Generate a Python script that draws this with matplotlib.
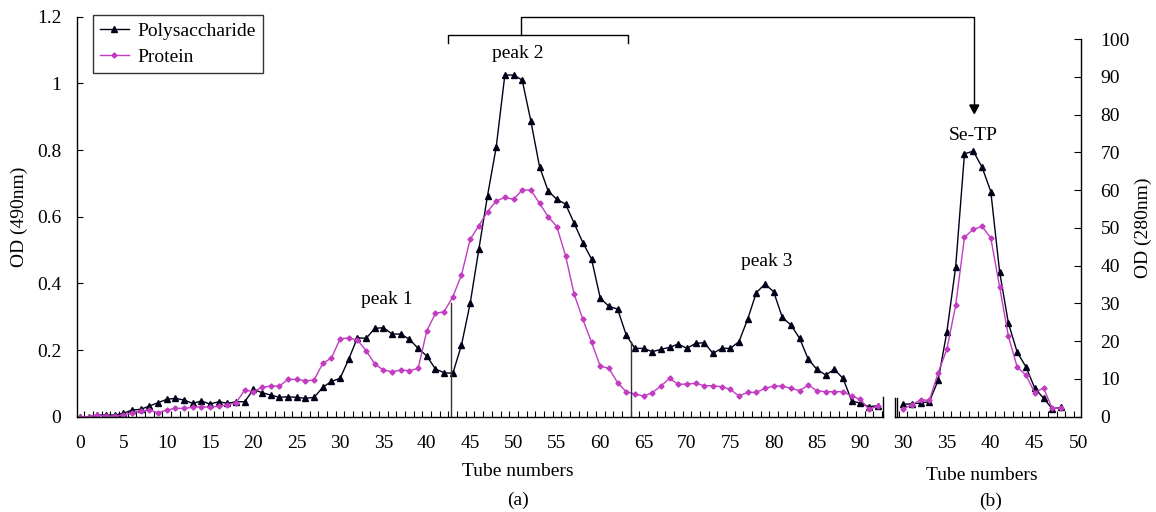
import numpy as np
import matplotlib
matplotlib.use("Agg")
import matplotlib.pyplot as plt
from matplotlib.lines import Line2D
from matplotlib.patches import Polygon
from matplotlib.ticker import FixedLocator

# ---------------- data ----------------
tubes_a = np.arange(0, 93)
poly_a = [0.000, 0.000, 0.005, 0.005, 0.005, 0.010, 0.020, 0.022, 0.032, 0.042,
          0.052, 0.055, 0.050, 0.040, 0.047, 0.038, 0.045, 0.040, 0.045, 0.045,
          0.082, 0.072, 0.065, 0.058, 0.060, 0.058, 0.055, 0.058, 0.088, 0.106,
          0.115, 0.173, 0.237, 0.235, 0.265, 0.267, 0.248, 0.248, 0.232, 0.205,
          0.182, 0.143, 0.132, 0.130, 0.215, 0.340, 0.502, 0.663, 0.808, 1.025,
          1.025, 1.010, 0.887, 0.750, 0.677, 0.652, 0.638, 0.580, 0.522, 0.473,
          0.356, 0.331, 0.323, 0.245, 0.205, 0.205, 0.195, 0.202, 0.208, 0.218,
          0.205, 0.220, 0.222, 0.190, 0.205, 0.205, 0.225, 0.292, 0.372, 0.398,
          0.375, 0.298, 0.275, 0.235, 0.172, 0.142, 0.125, 0.142, 0.115, 0.048,
          0.040, 0.030, 0.033]
protein_a = [0.000, 0.000, 0.005, 0.002, 0.002, 0.005, 0.012, 0.017, 0.020, 0.012,
             0.020, 0.025, 0.025, 0.028, 0.030, 0.028, 0.032, 0.035, 0.042, 0.080,
             0.075, 0.088, 0.092, 0.092, 0.112, 0.112, 0.108, 0.110, 0.160, 0.176,
             0.234, 0.236, 0.230, 0.198, 0.158, 0.140, 0.135, 0.140, 0.138, 0.145,
             0.258, 0.310, 0.315, 0.360, 0.425, 0.532, 0.573, 0.615, 0.647, 0.658,
             0.652, 0.680, 0.680, 0.640, 0.600, 0.570, 0.483, 0.367, 0.292, 0.223,
             0.152, 0.145, 0.102, 0.075, 0.068, 0.062, 0.072, 0.092, 0.115, 0.097,
             0.098, 0.100, 0.093, 0.093, 0.090, 0.082, 0.062, 0.073, 0.073, 0.085,
             0.092, 0.092, 0.085, 0.078, 0.095, 0.078, 0.075, 0.075, 0.075, 0.062,
             0.052, 0.022, 0.032]

tubes_b = np.arange(30, 49)
poly_b = [3.3, 3.4, 3.6, 4.0, 9.6, 22.5, 39.7, 69.6, 70.3, 66.1, 59.6, 38.4,
          24.8, 17.1, 13.2, 7.6, 4.9, 2.1, 2.5]
protein_b = [2.1, 3.1, 4.5, 4.3, 11.6, 17.9, 29.5, 47.5, 49.6, 50.4, 47.3, 34.4,
             21.3, 13.2, 11.0, 6.4, 7.6, 2.2, 2.4]

xticks_a = list(range(0, 95, 5))
yticks_a = [0, 0.2, 0.4, 0.6, 0.8, 1.0, 1.2]
yticklabels_a = ["0", "0.2", "0.4", "0.6", "0.8", "1", "1.2"]
xticks_b = [30, 35, 40, 45, 50]
yticks_b = list(range(0, 101, 10))

# ---------------- style ----------------
plt.rcParams['font.family'] = ['Liberation Serif', 'DejaVu Serif']
FS = 14
POLY_C = '#000018'
PROT_C = '#C23CC2'
W, H = 1156, 512

def fx(px):
    return px / W

def fy(py):
    return 1 - py / H

fig = plt.figure(figsize=(W / 100, H / 100), dpi=100)

# panel (a)
axa = fig.add_axes([fx(76.7), fy(416.7), (882.7 - 76.7) / W, 400 / H])
axa.plot(tubes_a, poly_a, color=POLY_C, lw=1.0, marker='^', ms=4, label='Polysaccharide')
axa.plot(tubes_a, protein_a, color=PROT_C, lw=1.0, marker='D', ms=2.6, label='Protein')
axa.set_xlim(-0.38, 92.58)
axa.set_ylim(0, 1.2)
axa.set_yticks(yticks_a)
axa.set_yticklabels(yticklabels_a)
axa.set_xticks(xticks_a)
axa.xaxis.set_minor_locator(FixedLocator(np.arange(0.5, 93, 1.0)))
axa.tick_params(axis='x', which='major', length=0, pad=13, labelsize=FS)
axa.tick_params(axis='x', which='minor', direction='in', length=4, width=0.8)
axa.tick_params(axis='y', direction='in', length=4, width=0.8, pad=11, labelsize=FS)
for s in ['top', 'right']:
    axa.spines[s].set_visible(False)
for s in ['left', 'bottom']:
    axa.spines[s].set_linewidth(1.0)
axa.plot([1, 1], [0, 0.05], transform=axa.transAxes, color='k', lw=1.0, clip_on=False)
# separation lines for peaks
axa.plot([42.75, 42.75], [0, 0.342], color='#333333', lw=1.0)
axa.plot([63.6, 63.6], [0, 0.225], color='#333333', lw=1.0)

leg = axa.legend(loc='upper left', bbox_to_anchor=(0.0199, 1.004), borderaxespad=0,
                 fontsize=FS, frameon=True, fancybox=False, edgecolor='k',
                 handlelength=1.5, borderpad=0.35, labelspacing=0.45,
                 handletextpad=0.45, markerscale=1.0)
leg.get_frame().set_linewidth(1.0)

# panel (b)
axb = fig.add_axes([fx(895), fy(416.7), (1081 - 895) / W, (416.7 - 39) / H])
axb.plot(tubes_b, poly_b, color=POLY_C, lw=1.0, marker='^', ms=4)
axb.plot(tubes_b, protein_b, color=PROT_C, lw=1.0, marker='D', ms=2.6)
axb.set_xlim(29.09, 50.27)
axb.set_ylim(0, 100)
axb.set_xticks(xticks_b)
axb.xaxis.set_minor_locator(FixedLocator(np.arange(29.5, 50.3, 1.0)))
axb.tick_params(axis='x', which='major', length=0, pad=13, labelsize=FS)
axb.tick_params(axis='x', which='minor', direction='in', length=4, width=0.8)
axb.yaxis.tick_right()
axb.set_yticks(yticks_b)
axb.tick_params(axis='y', direction='in', length=5, width=0.8, pad=14, labelsize=FS)
for s in ['top', 'left']:
    axb.spines[s].set_visible(False)
for s in ['right', 'bottom']:
    axb.spines[s].set_linewidth(1.0)
axb.plot([0, 0], [0, 0.05], transform=axb.transAxes, color='k', lw=1.0, clip_on=False)
axb.plot([0.012, 0.012], [0, 0.05], transform=axb.transAxes, color='k', lw=1.0, clip_on=False)

# axis titles
fig.text(fx(19), fy(217), 'OD (490nm)', fontsize=FS, rotation=90, ha='center', va='center')
fig.text(fx(1143), fy(228), 'OD (280nm)', fontsize=FS, rotation=90, ha='center', va='center')

# texts
fig.text(fx(386.7), fy(299), 'peak 1', fontsize=FS, ha='center', va='center')
fig.text(fx(517.7), fy(53.3), 'peak 2', fontsize=FS, ha='center', va='center')
fig.text(fx(767), fy(261.7), 'peak 3', fontsize=FS, ha='center', va='center')
fig.text(fx(972.7), fy(136), 'Se-TP', fontsize=FS, ha='center', va='center')
fig.text(fx(518), fy(472), 'Tube numbers', fontsize=FS, ha='center', va='center')
fig.text(fx(982), fy(476), 'Tube numbers', fontsize=FS, ha='center', va='center')
fig.text(fx(518), fy(500), '(a)', fontsize=FS, ha='center', va='center')
fig.text(fx(991), fy(501), '(b)', fontsize=FS, ha='center', va='center')

# bracket and arrow
def fline(xs, ys):
    fig.add_artist(Line2D([fx(x) for x in xs], [fy(y) for y in ys],
                          transform=fig.transFigure, color='k', lw=1.0))

fline([448.3, 448.3, 628.3, 628.3], [43.3, 35, 35, 43.3])
fline([521, 521, 974.3, 974.3], [35, 17.3, 17.3, 106])
fig.add_artist(Polygon([[fx(969.8), fy(105)], [fx(978.8), fy(105)], [fx(974.3), fy(113.5)]],
                       closed=True, transform=fig.transFigure, color='k'))

fig.savefig('out.png', dpi=100)
